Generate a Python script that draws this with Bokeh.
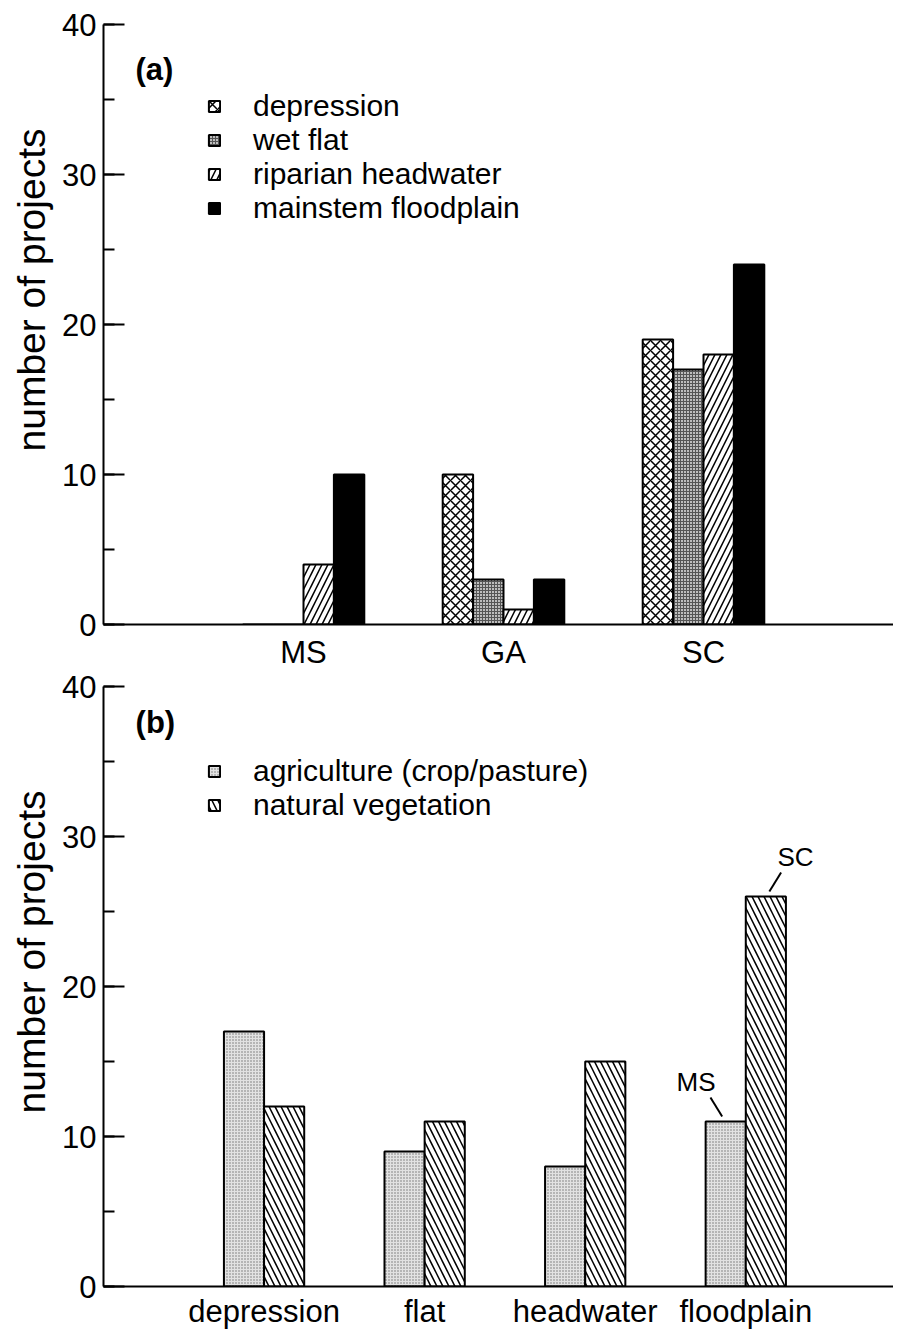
from bokeh.plotting import figure
from bokeh.models import (Range1d, FixedTicker, SingleIntervalTicker, Legend,
                          LegendItem, ColumnDataSource, Title)
from bokeh.layouts import column
from bokeh.transform import dodge
from bokeh.embed import file_html
from bokeh.resources import INLINE
from bokeh.core.properties import value

# ---------------- data ----------------
states = ["MS", "GA", "SC"]
wetland_types = ["depression", "wet flat", "riparian headwater", "mainstem floodplain"]
depression = [0, 10, 19]
wet_flat = [0, 3, 17]
riparian_headwater = [4, 1, 18]
mainstem_floodplain = [10, 3, 24]

hgm_classes = ["depression", "flat", "headwater", "floodplain"]
land_uses = ["agriculture (crop/pasture)", "natural vegetation"]
agriculture = [17, 9, 8, 11]
natural_vegetation = [12, 11, 15, 26]

# bar annotations in panel (b): (text, class index, land-use index)
bar_notes = [("MS", 3, 0), ("SC", 3, 1)]

y_title = "number of projects"

FONT = "Liberation Sans"
FS = "31px"
FS_LEG = "30px"
FS_YLAB = "39px"


def style_axes(p, ticks, labels, xstandoff):
    p.outline_line_color = None
    p.xgrid.visible = False
    p.ygrid.visible = False
    p.background_fill_color = "white"
    p.border_fill_alpha = 0

    yax = p.yaxis[0]
    yax.ticker = SingleIntervalTicker(interval=10, num_minor_ticks=2)
    yax.axis_line_width = 2
    yax.major_tick_line_width = 2
    yax.minor_tick_line_width = 2
    yax.major_tick_in = 21
    yax.major_tick_out = 0
    yax.minor_tick_in = 11
    yax.minor_tick_out = 0
    yax.major_label_standoff = 7
    yax.major_label_text_font = FONT
    yax.major_label_text_font_size = FS
    yax.major_label_text_color = "black"

    xax = p.xaxis[0]
    xax.ticker = FixedTicker(ticks=ticks)
    xax.major_label_overrides = {t: l for t, l in zip(ticks, labels)}
    xax.major_tick_line_color = None
    xax.minor_tick_line_color = None
    xax.axis_line_width = 2
    xax.major_label_standoff = xstandoff
    xax.major_label_text_font = FONT
    xax.major_label_text_font_size = FS
    xax.major_label_text_color = "black"
    xax.major_label_text_line_height = 1.0

    # y-axis title on the left, shifted toward the top like the original
    p.add_layout(Title(text=y_title, align="right", offset=104, standoff=10,
                       vertical_align="top",
                       text_font=FONT, text_font_size=FS_YLAB,
                       text_font_style="normal", text_color="black"), "left")


def make_legend(items, loc):
    return Legend(items=items, location=loc, orientation="vertical",
                  glyph_width=14, glyph_height=14, label_standoff=32,
                  label_text_font=FONT, label_text_font_size=FS_LEG,
                  label_text_color="black", label_text_line_height=1.0,
                  label_height=33, spacing=0, padding=0, margin=0,
                  border_line_color=None, background_fill_alpha=0)


# ---------------- panel (a) ----------------
pos_a = [i + 1 for i in range(len(states))]
src_a = ColumnDataSource(dict(pos=pos_a, depression=depression, wet_flat=wet_flat,
                              riparian=riparian_headwater, mainstem=mainstem_floodplain))

p1 = figure(frame_width=790, frame_height=600,
            x_range=Range1d(0, 3.95), y_range=Range1d(0, 40),
            min_border_left=103, min_border_right=0, min_border_top=24,
            min_border_bottom=40, output_backend="svg", toolbar_location=None)
style_axes(p1, pos_a, states, 4)

bw_a = 0.152
styles_a = [
    dict(fill_color="white", hatch_pattern="x", hatch_scale=10, hatch_weight=1.5, hatch_color="black"),
    dict(fill_color="#bdbdbd", hatch_pattern="+", hatch_scale=3, hatch_weight=1, hatch_color="#555555"),
    dict(fill_color="white", hatch_pattern="/", hatch_scale=12, hatch_weight=1.5, hatch_color="black"),
    dict(fill_color="black"),
]
cols_a = ["depression", "wet_flat", "riparian", "mainstem"]
items_a = []
for i, (c, name, st) in enumerate(zip(cols_a, wetland_types, styles_a)):
    off = (i - 1.5) * bw_a
    r = p1.vbar(x=dodge("pos", off, range=p1.x_range), top=c, bottom=0, width=bw_a,
                source=src_a, line_color="black", line_width=2, **st)
    items_a.append(LegendItem(label=name, renderers=[r]))

p1.add_layout(make_legend(items_a, (104, 399)))
p1.text(x=[0.16], y=[37.0], text=["(a)"], text_font=value(FONT), text_font_size=FS,
        text_font_style="bold", text_baseline="middle", text_align="left")

# ---------------- panel (b) ----------------
pos_b = [i + 1 for i in range(len(hgm_classes))]
src_b = ColumnDataSource(dict(pos=pos_b, agriculture=agriculture, natural=natural_vegetation))

p2 = figure(frame_width=790, frame_height=600,
            x_range=Range1d(0, 4.92), y_range=Range1d(0, 40),
            min_border_left=103, min_border_right=0, min_border_top=26,
            min_border_bottom=30, output_backend="svg", toolbar_location=None)
p2.margin = (-12, 0, 0, 0)
style_axes(p2, pos_b, hgm_classes, 1)

bw_b = 0.25
styles_b = [
    dict(fill_color="#e2e2e2", hatch_pattern=".", hatch_scale=3, hatch_weight=1, hatch_color="#707070"),
    dict(fill_color="white", hatch_pattern="\\", hatch_scale=12, hatch_weight=1.5, hatch_color="black"),
]
cols_b = ["agriculture", "natural"]
items_b = []
for i, (c, name, st) in enumerate(zip(cols_b, land_uses, styles_b)):
    off = (i - 0.5) * bw_b
    r = p2.vbar(x=dodge("pos", off, range=p2.x_range), top=c, bottom=0, width=bw_b,
                source=src_b, line_color="black", line_width=2, **st)
    items_b.append(LegendItem(label=name, renderers=[r]))

p2.add_layout(make_legend(items_b, (104, 464)))
p2.text(x=[0.2], y=[37.6], text=["(b)"], text_font=value(FONT), text_font_size=FS,
        text_font_style="bold", text_baseline="middle", text_align="left")

# annotations pointing to bars
series_b = [agriculture, natural_vegetation]
tx, ty, tt, x0, y0, x1, y1 = [], [], [], [], [], [], []
for label, ci, si in bar_notes:
    bx = pos_b[ci] + (si - 0.5) * bw_b
    top = series_b[si][ci]
    d = -1 if si == 0 else 1
    tx.append(bx + d * 0.185); ty.append(top + 2.65); tt.append(label)
    x0.append(bx + d * 0.022); y0.append(top + 0.33)
    x1.append(bx + d * 0.095); y1.append(top + 1.6)
p2.segment(x0=x0, y0=y0, x1=x1, y1=y1, line_color="black", line_width=2)
p2.text(x=tx, y=ty, text=tt, text_font=value(FONT), text_font_size="26px",
        text_baseline="middle", text_align="center")

layout = column(p1, p2)
open("out.html", "w").write(file_html(layout, INLINE))
